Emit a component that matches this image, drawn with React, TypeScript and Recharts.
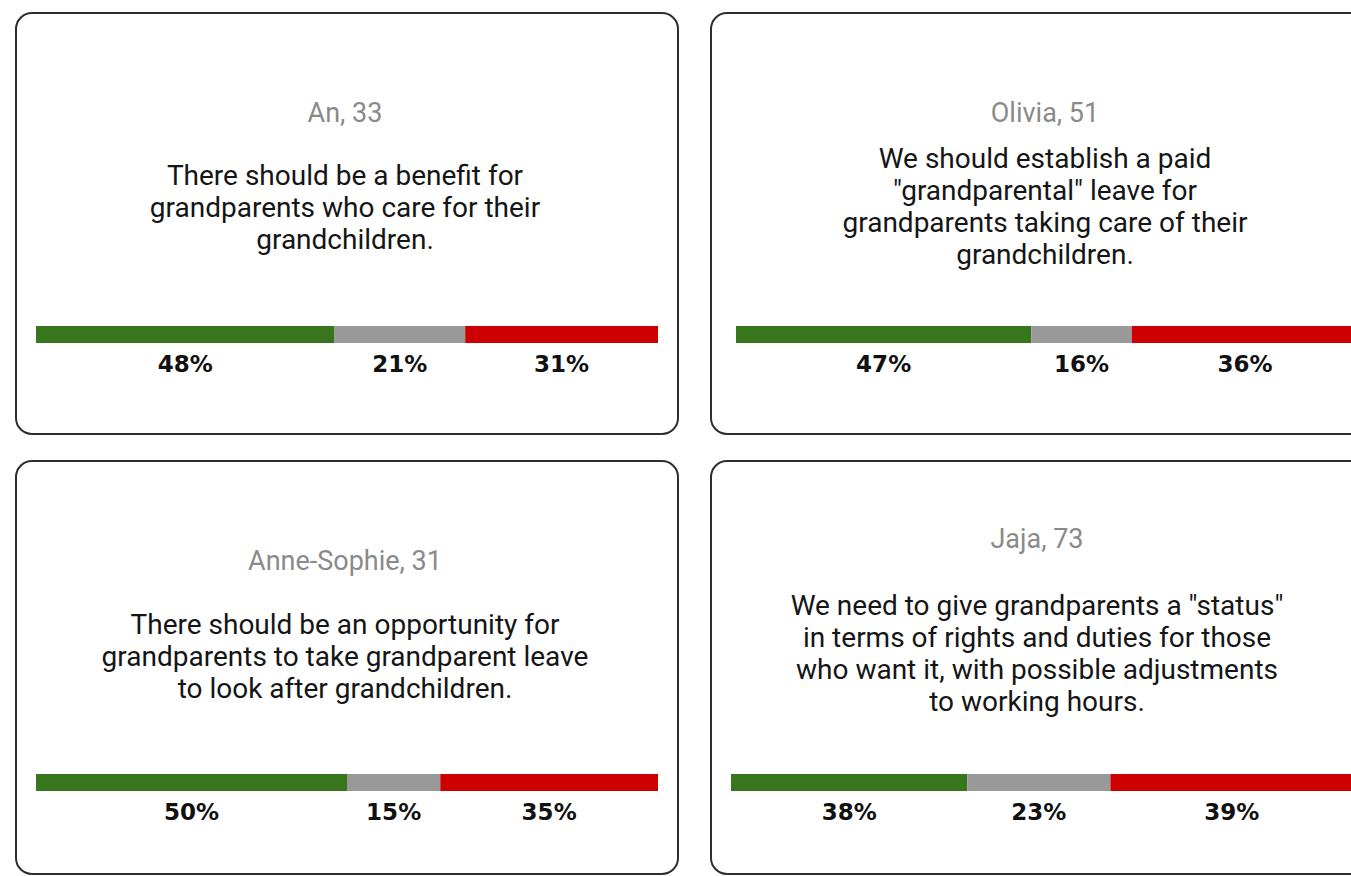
import { BarChart, Bar, XAxis, YAxis, LabelList } from "recharts";

const names = ["An, 33", "Olivia, 51", "Anne-Sophie, 31", "Jaja, 73"];

const quotes = [
  [
    "There should be a benefit for",
    "grandparents who care for their",
    "grandchildren.",
  ],
  [
    "We should establish a paid",
    '"grandparental" leave for',
    "grandparents taking care of their",
    "grandchildren.",
  ],
  [
    "There should be an opportunity for",
    "grandparents to take grandparent leave",
    "to look after grandchildren.",
  ],
  [
    'We need to give grandparents a "status"',
    "in terms of rights and duties for those",
    "who want it, with possible adjustments",
    "to working hours.",
  ],
];

const agree = [48, 47, 50, 38];
const neutral = [21, 16, 15, 23];
const disagree = [31, 36, 35, 39];

// card frames and where things sit on the page
const cards = [
  { left: 15, top: 12, width: 664, height: 423, textX: 345, nameY: 113, quoteY: 176, barX: 36, barY: 325 },
  { left: 710, top: 12, width: 670, height: 423, textX: 1045, nameY: 113, quoteY: 159, barX: 736, barY: 325 },
  { left: 15, top: 460, width: 664, height: 415, textX: 345, nameY: 561, quoteY: 625, barX: 36, barY: 773 },
  { left: 710, top: 460, width: 670, height: 415, textX: 1037, nameY: 539, quoteY: 606, barX: 731, barY: 773 },
];

const BAR_W = 622;
const BAR_H = 19;
const LINE_H = 32;

function PctLabel(props: any) {
  const { x, y, width, height, value } = props;
  return (
    <text
      x={x + width / 2}
      y={y + height + 29}
      textAnchor="middle"
      fontFamily="DejaVu Sans"
      fontWeight="bold"
      fontSize={23}
      fill="#111"
    >
      {value}%
    </text>
  );
}

function VoteBar({ i }: { i: number }) {
  const data = [
    { name: "vote", agree: agree[i], neutral: neutral[i], disagree: disagree[i] },
  ];
  return (
    <BarChart
      width={BAR_W}
      height={BAR_H + 41}
      data={data}
      layout="vertical"
      margin={{ top: 0, right: 0, left: 0, bottom: 41 }}
      barCategoryGap={0}
    >
      <XAxis type="number" hide domain={[0, "dataMax"]} />
      <YAxis type="category" dataKey="name" hide />
      <Bar dataKey="agree" stackId="a" fill="#38761d" barSize={BAR_H} isAnimationActive={false}>
        <LabelList dataKey="agree" content={PctLabel} />
      </Bar>
      <Bar dataKey="neutral" stackId="a" fill="#999999" barSize={BAR_H} isAnimationActive={false}>
        <LabelList dataKey="neutral" content={PctLabel} />
      </Bar>
      <Bar dataKey="disagree" stackId="a" fill="#cc0000" barSize={BAR_H} isAnimationActive={false}>
        <LabelList dataKey="disagree" content={PctLabel} />
      </Bar>
    </BarChart>
  );
}

export default function App() {
  return (
    <div
      style={{
        position: "absolute",
        left: 0,
        top: 0,
        width: 1351,
        height: 876,
        overflow: "hidden",
        background: "#fff",
        fontFamily: "Roboto, sans-serif",
      }}
    >
      {cards.map((c, i) => (
        <div key={i}>
          <div
            style={{
              position: "absolute",
              left: c.left,
              top: c.top,
              width: c.width,
              height: c.height,
              boxSizing: "border-box",
              border: "2px solid #2e2e2e",
              borderRadius: 17,
            }}
          />
          <div
            style={{
              position: "absolute",
              left: c.textX - 320,
              width: 640,
              top: c.nameY - LINE_H / 2,
              lineHeight: LINE_H + "px",
              fontSize: 27,
              color: "#8a8a8a",
              textAlign: "center",
            }}
          >
            {names[i]}
          </div>
          <div
            style={{
              position: "absolute",
              left: c.textX - 320,
              width: 640,
              top: c.quoteY - LINE_H / 2,
              lineHeight: LINE_H + "px",
              fontSize: 28,
              color: "#151515",
              textAlign: "center",
            }}
          >
            {quotes[i].map((line, j) => (
              <div key={j} style={{ whiteSpace: "nowrap" }}>
                {line}
              </div>
            ))}
          </div>
          <div style={{ position: "absolute", left: c.barX, top: c.barY }}>
            <VoteBar i={i} />
          </div>
        </div>
      ))}
    </div>
  );
}
